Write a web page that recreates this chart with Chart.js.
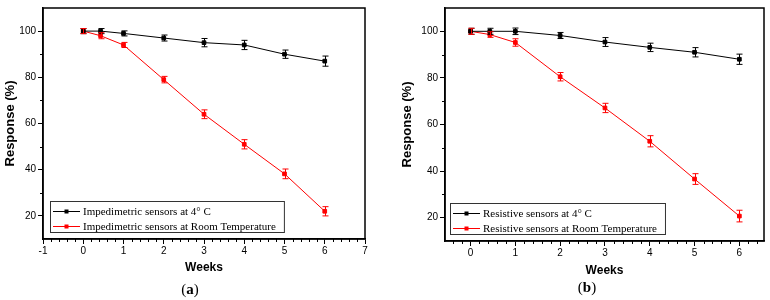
<!DOCTYPE html>
<html>
<head>
<meta charset="utf-8">
<script src="https://cdn.jsdelivr.net/npm/chart.js@4"></script>
<style>
  body { margin: 0; background: #fff; }
  #wrap { position: relative; width: 770px; height: 300px; }
  canvas { position: absolute; top: 0; }
  .cap { position: absolute; font: 15px "Liberation Serif", serif; color: #000; transform: translate(-50%, -50%); }
</style>
</head>
<body>
<div id="wrap">
  <canvas id="chartA" width="385" height="300" style="left:0"></canvas>
  <canvas id="chartB" width="385" height="300" style="left:385px"></canvas>
  <div class="cap" style="left:190px; top:289px">(<b>a</b>)</div>
  <div class="cap" style="left:587px; top:287px">(<b>b</b>)</div>
</div>
<script>
// weeks of storage
var weeks = [0, 0.43, 1, 2, 3, 4, 5, 6];

// (a) impedimetric sensors
var impCold = [100, 100, 99, 97, 95, 94, 90, 87];
var impColdErr = [1.1, 1.1, 1.1, 1.3, 1.8, 2, 1.8, 2.2];
var impRoom = [100, 98, 94, 79, 64, 51, 38.2, 22];
var impRoomErr = [1.1, 1.3, 1.1, 1.4, 1.9, 2, 2.1, 2];

// (b) resistive sensors
var resCold = [100, 100, 100, 98.2, 95.4, 93.1, 91, 88];
var resColdErr = [1.3, 1.3, 1.4, 1.3, 1.9, 1.8, 2, 2.2];
var resRoom = [100, 98.6, 95.2, 80.5, 67.1, 52.8, 36.6, 20.7];
var resRoomErr = [1.3, 1.2, 1.6, 1.8, 2, 2.4, 2.3, 2.5];

var yTicks = [20, 40, 60, 80, 100];
var xTicksA = [-1, 0, 1, 2, 3, 4, 5, 6, 7];
var xTicksB = [0, 1, 2, 3, 4, 5, 6];

function points(ys) {
    return weeks.map(function (w, i) { return { x: w, y: ys[i] }; });
}

function series(label, ys, errs, color) {
    return {
        label: label,
        data: points(ys),
        errs: errs,
        borderColor: color,
        backgroundColor: color,
        borderWidth: 1,
        pointStyle: "rect",
        pointRadius: 2.6,
        pointBorderWidth: 1,
        showLine: true,
    };
}

// error bars, box frame, minor ticks and legend
var extras = {
    id: "extras",
    afterDatasetsDraw: function (chart) {
        var ctx = chart.ctx;
        var ys = chart.scales.y;
        var xs = chart.scales.x;
        var area = chart.chartArea;
        ctx.save();
        chart.data.datasets.forEach(function (ds) {
            ctx.strokeStyle = ds.borderColor;
            ctx.lineWidth = 1;
            ds.data.forEach(function (p, i) {
                var px = Math.round(xs.getPixelForValue(p.x)) + 0.5;
                var top = ys.getPixelForValue(p.y + ds.errs[i]);
                var bot = ys.getPixelForValue(p.y - ds.errs[i]);
                ctx.beginPath();
                ctx.moveTo(px, top);
                ctx.lineTo(px, bot);
                ctx.moveTo(px - 3, top);
                ctx.lineTo(px + 3, top);
                ctx.moveTo(px - 3, bot);
                ctx.lineTo(px + 3, bot);
                ctx.stroke();
            });
        });

        // frame
        ctx.strokeStyle = "#000";
        ctx.lineWidth = 1.5;
        ctx.strokeRect(area.left, area.top, area.right - area.left, area.bottom - area.top);

        // minor ticks
        ctx.lineWidth = 1;
        ctx.beginPath();
        for (var v = Math.ceil(xs.min * 5) / 5; v <= xs.max + 1e-9; v += 0.2) {
            if (Math.abs(v - Math.round(v)) < 1e-6) continue;
            var x = Math.round(xs.getPixelForValue(v)) + 0.5;
            ctx.moveTo(x, area.bottom);
            ctx.lineTo(x, area.bottom + 3);
        }
        for (var t = 30; t <= 90; t += 20) {
            var y = Math.round(ys.getPixelForValue(t)) + 0.5;
            ctx.moveTo(area.left, y);
            ctx.lineTo(area.left - 3, y);
        }
        ctx.stroke();

        // legend box in lower left
        var lg = chart.options.plugins.extras;
        ctx.font = "11px 'Liberation Serif', serif";
        var textW = 0;
        chart.data.datasets.forEach(function (ds) {
            textW = Math.max(textW, ctx.measureText(ds.label).width);
        });
        var bx = area.left + lg.dx;
        var by = area.bottom - lg.dy;
        var bw = 33 + textW + 8;
        var bh = 31;
        ctx.lineWidth = 1;
        ctx.strokeStyle = "#333";
        ctx.fillStyle = "#fff";
        ctx.fillRect(bx, by, bw, bh);
        ctx.strokeRect(bx + 0.5, by + 0.5, bw, bh);
        chart.data.datasets.forEach(function (ds, i) {
            var ly = Math.round(by + 10 + i * 15) + 0.5;
            ctx.strokeStyle = ds.borderColor;
            ctx.fillStyle = ds.borderColor;
            ctx.beginPath();
            ctx.moveTo(bx + 3, ly);
            ctx.lineTo(bx + 30, ly);
            ctx.stroke();
            ctx.fillRect(bx + 14.5, ly - 2, 4, 4);
            ctx.fillStyle = "#000";
            ctx.textBaseline = "middle";
            ctx.fillText(ds.label, bx + 33, ly + 1);
        });
        ctx.restore();
    },
};

function makeChart(id, sets, opt) {
    return new Chart(document.getElementById(id), {
        type: "scatter",
        data: { datasets: sets },
        plugins: [extras],
        options: {
            responsive: false,
            animation: false,
            devicePixelRatio: 1,
            layout: { padding: { left: 0, top: 3, right: opt.padRight, bottom: 0 } },
            plugins: {
                legend: { display: false },
                tooltip: { enabled: false },
                extras: { dx: opt.legendDx, dy: 38 },
            },
            scales: {
                x: {
                    type: "linear",
                    min: opt.xMin,
                    max: opt.xMax,
                    afterBuildTicks: function (s) {
                        s.ticks = opt.xTicks.map(function (v) { return { value: v }; });
                    },
                    afterFit: function (s) { s.height = opt.xHeight; },
                    grid: { drawOnChartArea: false, tickLength: 5, tickColor: "#000" },
                    border: { color: "#000", width: 1.5 },
                    ticks: {
                        padding: 1,
                        color: "#000",
                        font: { family: "'Liberation Sans', Arial", size: 10 },
                        maxRotation: 0,
                    },
                    title: {
                        display: true,
                        text: "Weeks",
                        color: "#000",
                        font: { family: "'Liberation Sans', Arial", size: 12, weight: "bold" },
                        padding: { top: 0, bottom: opt.titleBottom },
                    },
                },
                y: {
                    min: 10,
                    max: 110,
                    afterBuildTicks: function (s) {
                        s.ticks = yTicks.map(function (v) { return { value: v }; });
                    },
                    afterFit: function (s) { s.width = opt.yWidth; },
                    grid: { drawOnChartArea: false, tickLength: 5, tickColor: "#000" },
                    border: { color: "#000", width: 1.5 },
                    ticks: {
                        padding: 2,
                        color: "#000",
                        font: { family: "'Liberation Sans', Arial", size: 10 },
                    },
                    title: {
                        display: true,
                        text: "Response (%)",
                        color: "#000",
                        font: { family: "'Liberation Sans', Arial", size: 13, weight: "bold" },
                        padding: { top: opt.yTitleTop, bottom: 0 },
                    },
                },
            },
        },
    });
}

makeChart("chartA", [
    series("Impedimetric sensors at 4\u00b0 C", impCold, impColdErr, "#000000"),
    series("Impedimetric sensors at Room Temperature", impRoom, impRoomErr, "#ff0000"),
], { xMin: -1, xMax: 7, xTicks: xTicksA, padRight: 20, yWidth: 43, xHeight: 61, titleBottom: 25, yTitleTop: 3, legendDx: 7 });

makeChart("chartB", [
    series("Resistive sensors at 4\u00b0 C", resCold, resColdErr, "#000000"),
    series("Resistive sensors at Room Temperature", resRoom, resRoomErr, "#ff0000"),
], { xMin: -0.57, xMax: 6.55, xTicks: xTicksB, padRight: 6, yWidth: 60, xHeight: 59, titleBottom: 22, yTitleTop: 15, legendDx: 5 });
</script>
</body>
</html>
